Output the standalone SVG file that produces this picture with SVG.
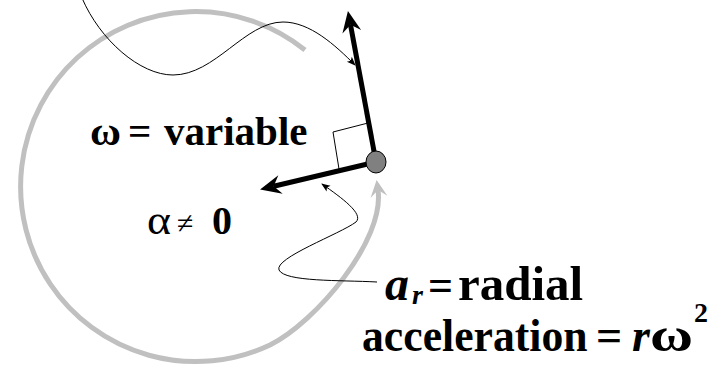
<svg xmlns="http://www.w3.org/2000/svg" width="714" height="366" viewBox="0 0 714 366">
  <style>
    .t { font-family: "Liberation Serif", "Times New Roman", serif; fill: #000; }
    .b { font-weight: bold; }
    .i { font-style: italic; }
    .thin { fill: none; stroke: #000; stroke-width: 1; }
    .vec { fill: none; stroke: #000; stroke-width: 5; }
    .path { fill: none; stroke: #c0c0c0; stroke-width: 5; }
  </style>
  <defs>
    <marker id="blk" markerUnits="userSpaceOnUse" viewBox="-22 -11 24 22" refX="-14" refY="0" markerWidth="24" markerHeight="22" orient="auto">
      <path d="M0,0 L-21,-9.5 L-14,0 L-21,9.5 Z" fill="#000"/>
    </marker>
    <marker id="gry" markerUnits="userSpaceOnUse" viewBox="-20 -10 22 20" refX="-10" refY="0" markerWidth="22" markerHeight="20" orient="auto">
      <path d="M0,0 L-17,-8.5 L-10,0 L-17,8.5 Z" fill="#c0c0c0"/>
    </marker>
    <marker id="sm" markerUnits="userSpaceOnUse" viewBox="-10 -5 11 10" refX="-1" refY="0" markerWidth="11" markerHeight="10" orient="auto">
      <path d="M0,0 L-9,-3.5 L-7,0 L-9,3.5 Z" fill="#000"/>
    </marker>
  </defs>

  <g id="path-circle">
    <path class="path" d="M305,50 A175,175 0 1 0 270,345 C316,322 385,240 378,190" marker-end="url(#gry)"/>
  </g>

  <g id="connectors">
    <path id="v-tangential" class="vec" d="M376,162 L350.5,24.8" marker-end="url(#blk)"/>
    <path id="a-radial" class="vec" d="M376,162 L273.7,186.2" marker-end="url(#blk)"/>
    <path id="right-angle" class="thin" d="M339,169 L333,132 L368,123"/>
    <path id="leader-top" class="thin" d="M82,-2 C100,40 140,75 173,75 C215,75 245,22 283,22 C310,22 335,45 355,65" marker-end="url(#sm)"/>
    <path id="leader-bottom" class="thin" d="M377,282 C340,280 285,282 279,270 C274,258 340,234 356,222 C364,214 342,198 322,184" marker-end="url(#sm)"/>
  </g>

  <g id="particle">
    <ellipse cx="376" cy="162" rx="10" ry="11" fill="#808080" stroke="#000" stroke-width="1"/>
  </g>

  <g id="label-omega">
    <text class="t b" x="90" y="145" font-size="41" textLength="31" lengthAdjust="spacingAndGlyphs">ω</text>
    <text class="t b" x="128" y="145" font-size="41">=</text>
    <text class="t b" x="164" y="145" font-size="41">variable</text>
  </g>

  <g id="label-alpha">
    <text class="t" x="147" y="234" font-size="42" textLength="24" lengthAdjust="spacingAndGlyphs">α</text>
    <text class="t" x="177" y="233" font-size="30">≠</text>
    <text class="t b" x="212" y="234" font-size="40">0</text>
  </g>

  <g id="label-radial">
    <text class="t b i" x="385" y="300" font-size="48">a</text>
    <text class="t b i" x="412" y="304" font-size="28">r</text>
    <text class="t b" x="428" y="300" font-size="44">=</text>
    <text class="t b" x="458" y="300" font-size="49">radial</text>
    <text class="t b" transform="translate(362,351) scale(0.95,1)" font-size="46">acceleration</text>
    <text class="t b" x="596" y="351" font-size="46">=</text>
    <text class="t b i" x="632" y="351" font-size="46">r</text>
    <text class="t b" x="650" y="351" font-size="46" textLength="43" lengthAdjust="spacingAndGlyphs">ω</text>
    <text class="t b" x="694" y="322" font-size="28">2</text>
  </g>
</svg>
